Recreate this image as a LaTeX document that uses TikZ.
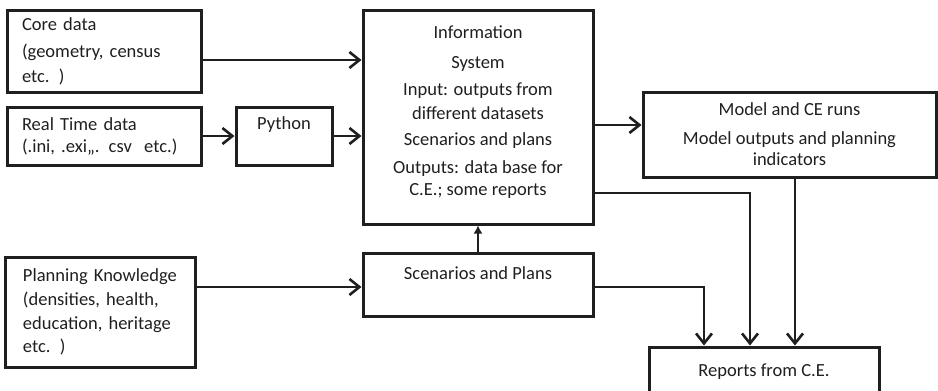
\documentclass[tikz,border=0pt]{standalone}
\usepackage{fontspec}
\setmainfont{Carlito}
\usetikzlibrary{arrows.meta,positioning,calc}

\begin{document}
\begin{tikzpicture}[
  x=1pt, y=-1pt,
  >={Straight Barb[length=10pt,width=16pt,line width=2.6pt]},
  every node/.style={font=\fontsize{18.5}{25}\selectfont, text=black!88},
  box/.style={draw=black!88, line width=3pt, inner sep=0pt, align=center},
  lbox/.style={box, align=left},
  link/.style={->, line width=2.7pt, black!88},
  uplink/.style={-{Latex[length=8pt,width=9pt]}, line width=1.5pt, black!88},
]
  \clip (0,0) rectangle (938,391);
  % Input boxes
  \node[lbox, minimum width=194pt, minimum height=82pt, text width=164pt]
    (core) at (104,51) {Core data\\[2pt](geometry, census\\etc. )};
  \node[lbox, minimum width=194pt, minimum height=58pt, text width=164pt]
    (real) at (104,136) {Real Time data\\[-3pt](.ini, .exi,,. csv\ \ etc.)};
  \node[box, minimum width=96pt, minimum height=58pt]
    (python) at (284,136) {Python\\~};
  \node[lbox, minimum width=190pt, minimum height=110pt, text width=154pt]
    (plan) at (100,312) {\mbox{Planning Knowledge}\\[-1pt]\mbox{(densities, health,}\\[-1pt]
      \mbox{education, heritage}\\[-2pt]etc. )};
  % Central boxes
  \node[box, minimum width=230pt, minimum height=214pt]
    (info) at (478,117) {Information\\[5pt]System\\[2pt]Input: outputs from\\[-1pt]different datasets\\[1pt]
      Scenarios and plans\\[3pt]Outputs: data base for\\[-3pt]C.E.; some reports\\[-12pt]~};
  \node[box, minimum width=230pt, minimum height=63pt]
    (scen) at (478,284.5) {Scenarios and Plans\\[-2pt]~};
  % Output boxes
  \node[box, minimum width=293pt, minimum height=85pt]
    (model) at (789.5,134.5) {Model and CE runs\\[4pt]Model outputs and planning\\[-4pt]indicators};
  \node[box, minimum width=230pt, minimum height=60pt]
    (reports) at (764,377) {Reports from C.E.\\[-11pt]~};
  % Connectors into the information system
  \draw[link] ([yshift=-9pt]core.east) coordinate (c1) -- (c1 -| info.west);
  \draw[link] (real.east) -- (python.west);
  \draw[link] (python.east) -- (python.east -| info.west);
  \coordinate (s1) at ([yshift=-2.5pt]scen.west);
  \draw[link] (plan.east |- s1) -- (s1);
  \draw[uplink] (scen.north) -- (info.south);
  % Connectors to model and reports
  \draw[link] ([yshift=-8pt]info.east) coordinate (c3) -- (c3 -| model.west);
  \coordinate (r1) at ([xshift=-60pt]reports.north);
  \coordinate (r2) at ([xshift=-14pt]reports.north);
  \coordinate (r3) at ([xshift=31pt]reports.north);
  \draw[link] ([yshift=-2.5pt]scen.east) -| (r1);
  \draw[link] ([yshift=-76pt]info.east) -| (r2);
  \draw[link] (model.south -| r3) -- (r3);
\end{tikzpicture}
\end{document}
